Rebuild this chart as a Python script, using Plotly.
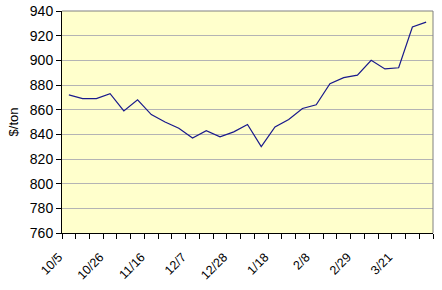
import plotly.graph_objects as go

weeks = ["10/5", "10/12", "10/19", "10/26", "11/2", "11/9", "11/16", "11/23", "11/30",
         "12/7", "12/14", "12/21", "12/28", "1/4", "1/11", "1/18", "1/25", "2/1",
         "2/8", "2/15", "2/22", "2/29", "3/7", "3/14", "3/21", "3/28", "4/4"]
prices = [872, 869, 869, 873, 859, 868, 856, 850, 845,
          837, 843, 838, 842, 848, 830, 846, 852, 861,
          864, 881, 886, 888, 900, 893, 894, 927, 931]
label_weeks = ["10/5", "10/26", "11/16", "12/7", "12/28", "1/18", "2/8", "2/29", "3/21"]
y_ticks = list(range(760, 941, 20))

ticktext = [w if w in label_weeks else "" for w in weeks]

fig = go.Figure()
fig.add_trace(go.Scatter(x=weeks, y=prices, mode="lines",
                         line=dict(color="#1A1A8C", width=1.2)))

fig.update_layout(
    width=442, height=290,
    margin=dict(l=62, r=9, t=11, b=57, autoexpand=False),
    paper_bgcolor="white",
    plot_bgcolor="#FFFFCC",
    showlegend=False,
    font=dict(family="Liberation Sans, Arial, sans-serif", color="black"),
    xaxis=dict(
        type="category", automargin=False,
        tickmode="array", tickvals=weeks, ticktext=ticktext,
        tickson="boundaries",
        ticks="outside", ticklen=5, tickcolor="black",
        tickangle=-45, tickfont=dict(size=12.5),
        ticklabelstandoff=11, ticklabelshift=-10,
        showgrid=False, showline=True, linecolor="black", linewidth=1,
        mirror=False, range=[-0.5, len(weeks) - 0.5],
    ),
    yaxis=dict(
        range=[760, 940], tickvals=y_ticks, automargin=False,
        ticks="outside", ticklen=5, tickcolor="black",
        tickfont=dict(size=14),
        showgrid=True, gridcolor="#B4B4B4", gridwidth=1,
        showline=True, linecolor="black", linewidth=1,
        zeroline=False,
        title=dict(text="$/ton", font=dict(size=13), standoff=8),
    ),
    shapes=[
        dict(type="line", xref="paper", yref="paper", x0=0, x1=1, y0=1, y1=1,
             line=dict(color="#808080", width=1)),
        dict(type="line", xref="paper", yref="paper", x0=1, x1=1, y0=0, y1=1,
             line=dict(color="#808080", width=1)),
    ],
)

fig.write_html("out.html")
